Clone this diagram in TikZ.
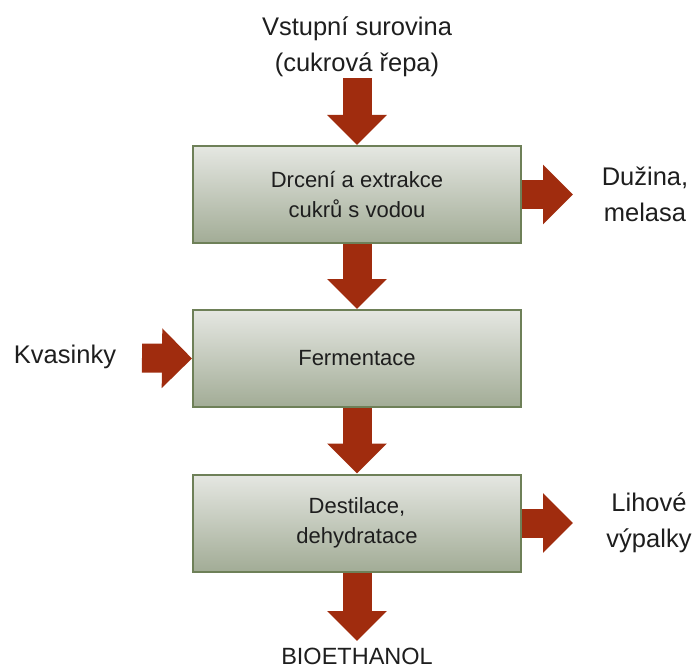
\documentclass[tikz,border=0pt]{standalone}
\usepackage{fontspec}
\setmainfont{Liberation Sans}
\usetikzlibrary{arrows.meta}
\definecolor{arrowred}{RGB}{160,44,14}
\definecolor{boxedge}{RGB}{110,128,88}
\definecolor{boxtop}{RGB}{229,231,226}
\definecolor{boxbot}{RGB}{162,172,150}
\definecolor{txt}{RGB}{30,30,30}
\begin{document}
\begin{tikzpicture}[x=1pt,y=1pt,
  procbox/.style={draw=boxedge, line width=2pt, top color=boxtop, bottom color=boxbot,
    minimum width=328pt, minimum height=97pt, align=center, text=txt,
    font=\fontsize{22}{30}\selectfont, inner sep=0pt},
  outtext/.style={align=center, text=txt, font=\fontsize{25.5}{36.5}\selectfont, inner sep=0pt},
  blockarrow/.style={draw=arrowred, line width=29pt, line cap=butt,
    -{Triangle[width=58pt,length=30pt]}}]
\useasboundingbox (0,0) rectangle (693,-671);
\node[procbox] (b1) at (357,-194.5) {Drcení a extrakce\\cukrů s vodou};
\node[procbox] (b2) at (357,-358.5) {Fermentace};
\node[procbox] (b3) at (357,-523) {Destilace,\\dehydratace};
\node[outtext] (in) at (357,-47) {Vstupní surovina\\(cukrová řepa)};
\node[outtext] (duz) at (645,-194.5) {Dužina,\\melasa};
\node[outtext] (kva) at (65,-357) {Kvasinky};
\node[outtext, font=\fontsize{23.5}{30}\selectfont] (bio) at (357,-656) {BIOETHANOL};
\node[outtext] (lih) at (649,-523) {Lihové\\výpalky};
\coordinate (inA) at (357,-78);
\coordinate (duzA) at (573,-194.5);
\coordinate (kvaA) at (142,-358);
\coordinate (lihA) at (573,-523);
\coordinate (bioA) at (357,-641);
\draw[blockarrow] (inA) -- (b1.north);
\draw[blockarrow] (b1.south) -- (b2.north);
\draw[blockarrow] (b2.south) -- (b3.north);
\draw[blockarrow] (b3.south) -- (bioA);
\draw[blockarrow] (b1.east) -- (duzA);
\draw[blockarrow] (b3.east) -- (lihA);
\draw[blockarrow] (kvaA) -- (b2.west);
\end{tikzpicture}
\end{document}
